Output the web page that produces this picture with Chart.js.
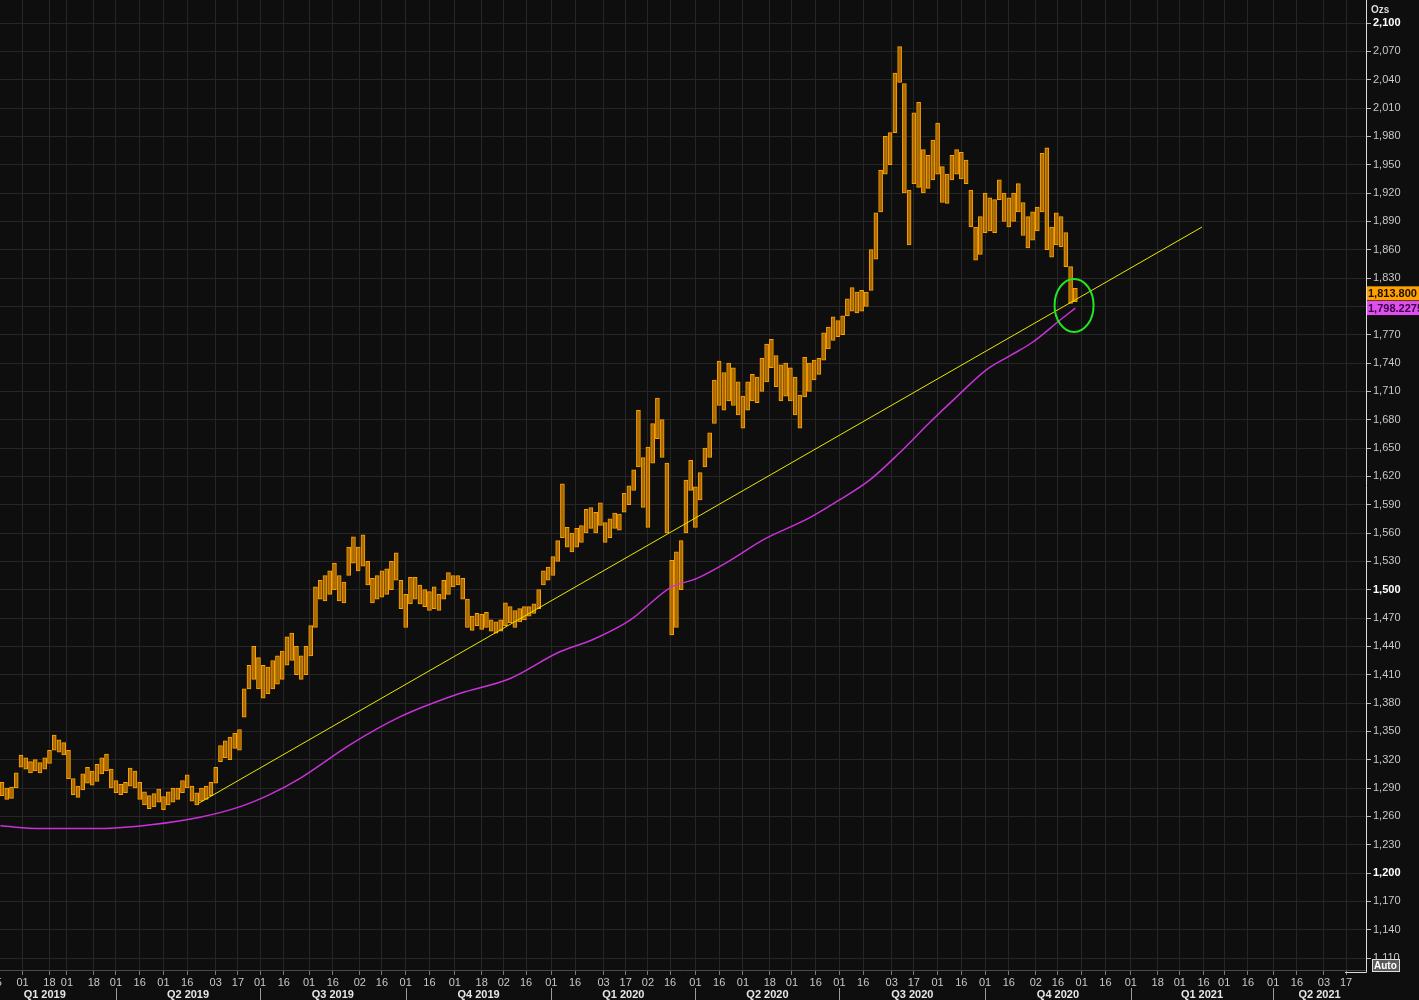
<!DOCTYPE html>
<html>
<head>
<meta charset="utf-8">
<script src="https://cdn.jsdelivr.net/npm/chart.js@4.4.0/dist/chart.umd.min.js"></script>
<style>
html, body { margin: 0; padding: 0; background: #0e0e0e; }
canvas { display: block; }
</style>
</head>
<body>
<canvas id="goldChart" width="1419" height="1000"></canvas>
<script>
// days counted from 2019-01-01, one bar every 3 days
const firstDay = 18;
const dayStep = 3;

const lows = [
  1282,1278,1279,1290,1312,1310,1306,1308,1306,1310,
  1316,1330,1328,1325,1300,1283,1280,1288,1295,1293,
  1297,1305,1308,1290,1285,1283,1285,1292,1290,1278,
  1272,1268,1270,1275,1267,1272,1275,1278,1285,1290,
  1276,1272,1276,1278,1282,1295,1318,1322,1320,1332,
  1330,1365,1395,1405,1395,1385,1390,1395,1400,1405,
  1420,1425,1410,1405,1410,1430,1460,1490,1488,1495,
  1500,1488,1486,1515,1528,1520,1525,1505,1486,1490,
  1492,1495,1500,1510,1480,1460,1485,1490,1485,1482,
  1478,1480,1478,1490,1495,1503,1505,1490,1460,1457,
  1462,1458,1460,1456,1454,1456,1462,1465,1460,1466,
  1468,1472,1475,1480,1505,1510,1515,1530,1555,1545,
  1540,1545,1550,1560,1565,1560,1568,1550,1555,1565,
  1563,1582,1590,1605,1630,1587,1566,1634,1660,1640,
  1560,1452,1460,1500,1560,1605,1566,1595,1630,1640,
  1676,1695,1690,1700,1695,1685,1671,1690,1700,1698,
  1710,1720,1735,1715,1700,1705,1700,1685,1671,1704,
  1710,1722,1728,1743,1755,1764,1768,1770,1790,1795,
  1793,1795,1800,1817,1850,1900,1940,1950,1984,2037,
  1920,1865,1930,1926,1920,1925,1934,1940,1910,1909,
  1934,1940,1935,1930,1884,1849,1855,1878,1880,1878,
  1913,1890,1884,1890,1900,1875,1862,1870,1880,1900,
  1860,1852,1865,1863,1842,1803,1805
];
const highs = [
  1296,1290,1291,1306,1325,1322,1318,1320,1317,1322,
  1330,1346,1341,1338,1330,1300,1292,1305,1312,1308,
  1315,1322,1326,1310,1298,1294,1296,1311,1308,1296,
  1286,1282,1284,1289,1281,1286,1290,1290,1298,1304,
  1292,1285,1290,1292,1296,1312,1335,1340,1344,1348,
  1352,1395,1420,1440,1428,1420,1418,1425,1430,1435,
  1450,1454,1440,1430,1440,1462,1503,1510,1515,1520,
  1528,1515,1508,1545,1556,1545,1558,1530,1512,1515,
  1520,1522,1530,1539,1510,1495,1513,1513,1505,1500,
  1498,1503,1495,1510,1518,1515,1515,1512,1490,1472,
  1475,1474,1476,1468,1466,1468,1486,1482,1478,1480,
  1482,1482,1485,1500,1520,1524,1535,1552,1612,1566,
  1560,1565,1568,1585,1587,1582,1592,1571,1575,1581,
  1580,1602,1610,1627,1690,1640,1651,1676,1703,1680,
  1634,1531,1540,1552,1616,1637,1609,1624,1650,1666,
  1722,1742,1730,1740,1735,1720,1705,1720,1728,1725,
  1745,1760,1765,1748,1738,1740,1735,1725,1706,1746,
  1740,1743,1745,1772,1778,1789,1785,1790,1808,1820,
  1815,1817,1815,1860,1899,1944,1980,1984,2047,2075,
  2036,1923,2005,2016,1966,1960,1976,1994,1948,1940,
  1960,1966,1963,1955,1923,1884,1895,1920,1915,1913,
  1934,1920,1915,1920,1930,1910,1895,1900,1905,1962,
  1968,1884,1899,1895,1878,1842,1819
];

// 200 day moving average
const maDays = [17,42,80,112,143,168,187,206,238,269,307,339,370,391,415,440,457,478,499,528,547,566,585,604,619,640,655,669,686,696];
const maValues = [1250,1247,1247,1251,1259,1270,1283,1300,1336,1365,1390,1406,1434,1447,1468,1502,1512,1531,1553,1576,1595,1616,1645,1677,1701,1733,1748,1762,1785,1798.2];

// trend line
const trendDays = [142.4, 776];
const trendValues = [1274, 1884];

const lastClose = 1813.8;
const lastMA = 1798.2275;
const markerDay = 695.2;
const markerValue = 1801;

const tickDays = [14,31,48,59,76,90,105,120,135,153,167,181,196,212,227,244,258,273,288,304,321,335,349,
  365,380,398,412,426,440,456,471,486,503,517,532,547,562,580,594,609,624,639,654,671,685,700,715,
  731,748,762,777,790,805,821,836,853,867];
const tickLabels = ['15','01','18','01','18','01','16','01','16','03','17','01','16','01','16','02','16','01','16','01','18','02','16',
  '01','16','03','17','02','16','01','16','01','18','01','16','01','16','03','17','01','16','01','16','02','16','01','16',
  '01','18','01','16','01','16','01','16','03','17'];

const quarterStarts = [0,90,181,273,365,456,547,639,731,821,912];
const quarterNames = ['Q1 2019','Q2 2019','Q3 2019','Q4 2019','Q1 2020','Q2 2020','Q3 2020','Q4 2020','Q1 2021','Q2 2021'];

const yTicks = [];
for (let v = 1110; v <= 2100; v += 30) yTicks.push(v);

const candleData = lows.map((lo, i) => ({ x: firstDay + i * dayStep, y: [lo, highs[i]] }));
const maData = maDays.map((d, i) => ({ x: d, y: maValues[i] }));
const trendData = trendDays.map((d, i) => ({ x: d, y: trendValues[i] }));

const fmt = (v, n) => v.toLocaleString('en-US', { minimumFractionDigits: n, maximumFractionDigits: n });

const overlay = {
  id: 'overlay',
  beforeDraw(chart) {
    const c = chart.ctx;
    c.save();
    c.fillStyle = '#0e0e0e';
    c.fillRect(0, 0, chart.width, chart.height);
    c.restore();
  },
  afterDraw(chart) {
    const c = chart.ctx, xs = chart.scales.x, ys = chart.scales.y, area = chart.chartArea;
    c.save();

    // green circle round the last bars
    c.beginPath();
    c.ellipse(xs.getPixelForValue(markerDay), ys.getPixelForValue(markerValue), 19.5, 26.5, 0, 0, Math.PI * 2);
    c.strokeStyle = '#22e622';
    c.lineWidth = 2;
    c.stroke();

    // quarter row
    c.font = 'bold 11px "Liberation Sans", Arial, sans-serif';
    c.fillStyle = '#e6e6e6';
    c.textAlign = 'center';
    c.textBaseline = 'middle';
    c.strokeStyle = '#9a9a9a';
    c.lineWidth = 1;
    for (let i = 0; i < quarterNames.length; i++) {
      const p0 = xs.getPixelForValue(quarterStarts[i]);
      const p1 = xs.getPixelForValue(quarterStarts[i + 1]);
      if (i > 0) {
        const px = Math.round(p0) + 0.5;
        c.beginPath(); c.moveTo(px, 988); c.lineTo(px, 1000); c.stroke();
      }
      let cx = (p0 + p1) / 2;
      cx = Math.min(cx, (p0 + area.right) / 2);
      c.fillText(quarterNames[i], cx, 995);
    }

    // right axis corner
    c.strokeStyle = '#dcdcdc';
    c.beginPath(); c.moveTo(1345, area.bottom + 2.5); c.lineTo(area.right + 0.5, area.bottom + 2.5); c.lineTo(area.right + 0.5, area.bottom); c.stroke();

    // unit
    c.textAlign = 'left';
    c.fillStyle = '#dddddd';
    c.font = 'bold 10px "Liberation Sans", Arial, sans-serif';
    c.fillText('Ozs', 1371, 10);

    // last value boxes
    const boxes = [[lastClose, fmt(lastClose, 3), '#ffa200', '#1a0d00'], [lastMA, fmt(lastMA, 4), '#e04ef0', '#3a0040']];
    c.font = 'bold 11px "Liberation Sans", Arial, sans-serif';
    boxes.forEach(([v, txt, bg, fg]) => {
      const py = ys.getPixelForValue(v);
      c.fillStyle = bg;
      c.fillRect(area.right + 1, py - 7, chart.width - area.right, 14);
      c.fillStyle = fg;
      c.fillText(txt, area.right + 2, py + 0.5);
    });

    // Auto button
    c.fillStyle = '#5a5a5a';
    c.fillRect(1372, 959, 28, 13);
    c.strokeStyle = '#e0e0e0';
    c.strokeRect(1372.5, 959.5, 27, 12);
    c.fillStyle = '#ffffff';
    c.font = 'bold 10px "Liberation Sans", Arial, sans-serif';
    c.fillText('Auto', 1374, 966);

    c.restore();
  }
};

new Chart(document.getElementById('goldChart'), {
  data: {
    datasets: [
      {
        type: 'line',
        label: 'Trend',
        data: trendData,
        borderColor: '#e8e800',
        borderWidth: 1,
        pointRadius: 0,
        order: 0
      },
      {
        type: 'line',
        label: 'MA',
        data: maData,
        borderColor: '#c832d8',
        borderWidth: 1.5,
        pointRadius: 0,
        cubicInterpolationMode: 'monotone',
        order: 1
      },
      {
        type: 'bar',
        label: 'Gold',
        data: candleData,
        backgroundColor: '#a86a00',
        borderColor: '#ffa200',
        borderWidth: 1,
        borderSkipped: false,
        barThickness: 4,
        order: 2
      }
    ]
  },
  options: {
    responsive: false,
    animation: false,
    devicePixelRatio: 1,
    layout: { padding: 0 },
    plugins: { legend: { display: false }, tooltip: { enabled: false } },
    scales: {
      x: {
        type: 'linear',
        position: 'bottom',
        offset: false,
        min: 16.74,
        max: 879.6,
        afterBuildTicks: (s) => { s.ticks = tickDays.map(v => ({ value: v })); },
        afterFit: (s) => { s.height = 30; s.paddingLeft = 0; s.paddingRight = 0; },
        grid: { offset: false, color: '#262626', tickColor: '#777777', tickLength: 5 },
        border: { color: '#4a4a4a' },
        ticks: {
          autoSkip: false,
          maxRotation: 0,
          padding: 1,
          color: '#c8c8c8',
          font: { family: '"Liberation Sans", Arial, sans-serif', size: 11 },
          callback: (v) => tickLabels[tickDays.indexOf(v)]
        }
      },
      y: {
        type: 'linear',
        position: 'right',
        min: 1097.3,
        max: 2124.4,
        afterBuildTicks: (s) => { s.ticks = yTicks.map(v => ({ value: v })); },
        afterFit: (s) => { s.width = 53; s.paddingTop = 0; s.paddingBottom = 0; },
        grid: { color: '#262626', tickColor: '#bbbbbb', tickLength: 5 },
        border: { color: '#dcdcdc' },
        ticks: {
          padding: 2,
          color: (ctx) => (ctx.tick && ctx.tick.value % 300 === 0 ? '#ffffff' : '#c8c8c8'),
          font: (ctx) => ({
            family: '"Liberation Sans", Arial, sans-serif',
            size: 11,
            weight: ctx.tick && ctx.tick.value % 300 === 0 ? 'bold' : 'normal'
          }),
          callback: (v) => fmt(v, 0)
        }
      }
    }
  },
  plugins: [overlay]
});
</script>
</body>
</html>
